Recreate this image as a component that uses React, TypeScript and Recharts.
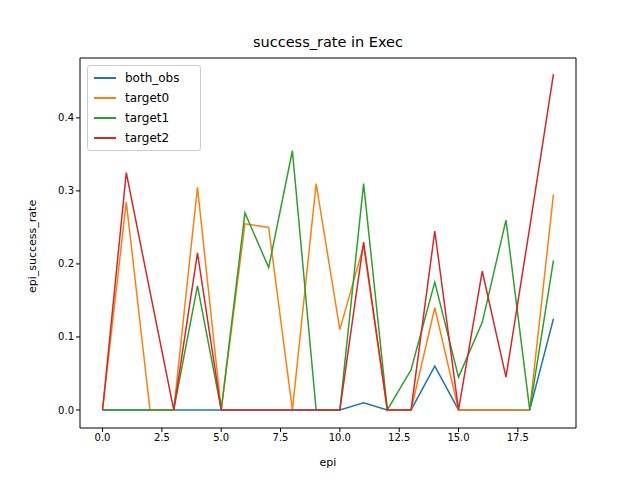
import React from 'react';
import { LineChart, Line, XAxis, YAxis } from 'recharts';

const epi = [0, 1, 2, 3, 4, 5, 6, 7, 8, 9, 10, 11, 12, 13, 14, 15, 16, 17, 18, 19];
const bothObs = [0, 0, 0, 0, 0, 0, 0, 0, 0, 0, 0, 0.01, 0, 0, 0.06, 0, 0, 0, 0, 0.125];
const target0 = [0, 0.285, 0, 0, 0.305, 0, 0.255, 0.25, 0, 0.31, 0.11, 0.225, 0, 0, 0.14, 0, 0, 0, 0, 0.295];
const target1 = [0, 0, 0, 0, 0.17, 0, 0.27, 0.195, 0.355, 0, 0, 0.31, 0, 0.055, 0.175, 0.045, 0.12, 0.26, 0, 0.205];
const target2 = [0, 0.325, 0.162, 0, 0.215, 0, 0, 0, 0, 0, 0, 0.23, 0, 0, 0.245, 0, 0.19, 0.045, 0.25, 0.46];

const xTicks = [0, 2.5, 5, 7.5, 10, 12.5, 15, 17.5];
const yTicks = [0, 0.1, 0.2, 0.3, 0.4];

const series = [
  { key: 'both_obs', color: '#1f77b4' },
  { key: 'target0', color: '#ff7f0e' },
  { key: 'target1', color: '#2ca02c' },
  { key: 'target2', color: '#d62728' },
];

const data = epi.map((e, i) => ({
  epi: e,
  both_obs: bothObs[i],
  target0: target0[i],
  target1: target1[i],
  target2: target2[i],
}));

const font = 'DejaVu Sans, sans-serif';

export default function App() {
  return (
    <div style={{ position: 'absolute', left: 0, top: 0, width: 640, height: 480, fontFamily: font, background: '#fff' }}>
      <div style={{ position: 'absolute', top: 34, left: 80, width: 496, textAlign: 'center', fontSize: 14.5, color: '#000' }}>
        success_rate in Exec
      </div>
      <LineChart width={640} height={480} data={data} margin={{ top: 58, right: 64, bottom: 22, left: 30 }}>
        <XAxis
          dataKey="epi"
          type="number"
          domain={[-0.95, 19.95]}
          ticks={xTicks}
          tickFormatter={(v: number) => v.toFixed(1)}
          height={30}
          stroke="#000"
          tick={{ fill: '#000', fontSize: 10, fontFamily: font }}
          tickSize={4}
          label={{ value: 'epi', position: 'insideBottom', offset: -8, fill: '#000', fontSize: 11, fontFamily: font }}
        />
        <YAxis
          type="number"
          domain={[-0.0247, 0.482]}
          ticks={yTicks}
          tickFormatter={(v: number) => v.toFixed(1)}
          width={50}
          stroke="#000"
          tick={{ fill: '#000', fontSize: 10, fontFamily: font }}
          tickSize={4}
          label={{ value: 'epi_success_rate', angle: -90, position: 'insideLeft', offset: 0, dx: 2, dy: 50, fill: '#000', fontSize: 11, fontFamily: font }}
        />
        {series.map((s) => (
          <Line key={s.key} dataKey={s.key} stroke={s.color} strokeWidth={1.5} dot={false} isAnimationActive={false} type="linear" />
        ))}
        <line x1={576} y1={58} x2={576} y2={428} stroke="#000" />
        <line x1={80} y1={58} x2={576} y2={58} stroke="#000" />
      </LineChart>
      <div style={{ position: 'absolute', left: 87, top: 65, width: 98, border: '1px solid #ccc', borderRadius: 3, padding: '2px 8px 2px 6px', background: '#fff', fontSize: 12 }}>
        {series.map((s) => (
          <div key={s.key} style={{ display: 'flex', alignItems: 'center', height: 20 }}>
            <span style={{ display: 'inline-block', width: 22, height: 2, background: s.color, marginRight: 9 }} />
            {s.key}
          </div>
        ))}
      </div>
    </div>
  );
}
